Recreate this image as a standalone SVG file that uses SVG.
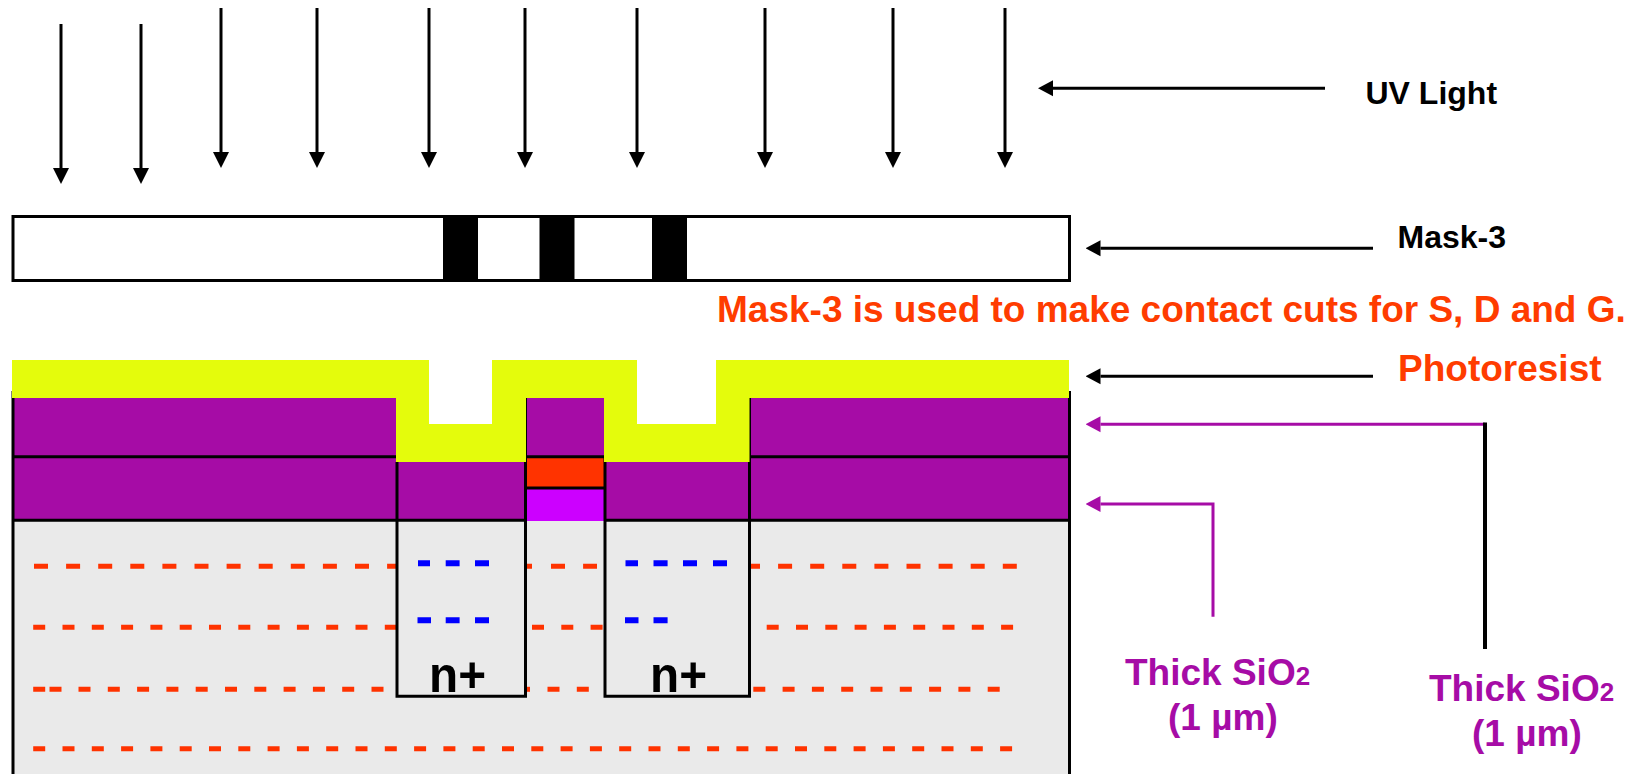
<svg xmlns="http://www.w3.org/2000/svg" width="1647" height="774" viewBox="0 0 1647 774">
<style>
text{font-family:"Liberation Sans",Arial,sans-serif;font-weight:bold}
.lab{font-size:32px;fill:#000}
.red{font-size:37px;fill:#ff3c00}
.pur{font-size:37px;fill:#a60ca6}
.np{font-size:50px;fill:#000}
.k{stroke:#000;fill:none;stroke-width:3}
.ray{stroke:#000;stroke-width:3;fill:none;marker-end:url(#down)}
.ptr{stroke:#000;stroke-width:3;fill:none;marker-end:url(#left)}
.pptr{stroke:#a60ca6;stroke-width:3;fill:none;marker-end:url(#leftp)}
.d1{stroke:#ff3300;stroke-width:5;fill:none;stroke-dasharray:14 18.1}
.d2{stroke:#ff3300;stroke-width:5;fill:none;stroke-dasharray:12 17.3}
.b{stroke:#0000ff;stroke-width:6;fill:none}
.ox{fill:#a60ca6}
</style>
<defs>
<marker id="down" markerUnits="userSpaceOnUse" markerWidth="16" markerHeight="17" refX="0" refY="8.5" orient="auto"><path d="M0 0.5L16 8.5L0 16.5Z" fill="#000"/></marker>
<marker id="left" markerUnits="userSpaceOnUse" markerWidth="15" markerHeight="17" refX="0" refY="8.5" orient="auto"><path d="M0 0.5L15 8.5L0 16.5Z" fill="#000"/></marker>
<marker id="leftp" markerUnits="userSpaceOnUse" markerWidth="15" markerHeight="17" refX="0" refY="8.5" orient="auto"><path d="M0 0.5L15 8.5L0 16.5Z" fill="#a60ca6"/></marker>
</defs>
<rect width="1647" height="774" fill="#fff"/>

<g id="uv-rays">
<path class="ray" d="M61 24V168"/><path class="ray" d="M141 24V168"/>
<path class="ray" d="M221 8V152"/><path class="ray" d="M317 8V152"/><path class="ray" d="M429 8V152"/><path class="ray" d="M525 8V152"/>
<path class="ray" d="M637 8V152"/><path class="ray" d="M765 8V152"/><path class="ray" d="M893 8V152"/><path class="ray" d="M1005 8V152"/>
</g>

<g id="mask">
<rect x="13" y="216.5" width="1056.5" height="64" fill="#fff" stroke="#000" stroke-width="3"/>
<rect x="443" y="215" width="35" height="67"/>
<rect x="539.5" y="215" width="35" height="67"/>
<rect x="652" y="215" width="35" height="67"/>
</g>

<g id="substrate">
<rect x="13" y="521" width="1056.5" height="253" fill="#eaeaea"/>
<path class="d1" d="M34 566.3H396"/><path class="d1" d="M527 566.3H532M551 566.3H597"/><path class="d1" d="M751 566.3H1018" stroke-dashoffset="5"/>
<path class="d2" d="M33.2 627.3H396"/><path class="d2" d="M532 627.3H604"/><path class="d2" d="M766.7 627.3H1014"/>
<path class="d2" d="M33.2 689.3H46M49.5 689.3H62M78.5 689.3H384"/><path class="d2" d="M547.5 689.3H590"/><path class="d2" d="M525 689.3H530"/><path class="d2" d="M753.3 689.3H1001"/>
<path class="d2" d="M33.2 748.7H1014"/>
<path class="b" d="M418 563.3H430M445.7 563.3H459.6M475 563.3H489"/>
<path class="b" d="M417.5 620.3H431M445.7 620.3H459.6M475 620.3H489"/>
<path class="b" d="M625.5 563.3H638M653.5 563.3H667.6M683 563.3H697M713 563.3H727"/>
<path class="b" d="M625 620.3H638.5M653.5 620.3H667.6"/>
</g>

<g id="oxide">
<rect class="ox" x="13" y="398" width="383" height="123"/>
<rect class="ox" x="396" y="460" width="130" height="61"/>
<rect class="ox" x="525" y="398" width="80" height="60"/>
<rect class="ox" x="604" y="460" width="146" height="61"/>
<rect class="ox" x="749" y="398" width="320" height="123"/>
</g>

<g id="gate">
<rect x="527" y="458" width="77" height="29" fill="#ff3300"/>
<rect x="527" y="489" width="77" height="32" fill="#cc00ff"/>
<path class="k" d="M526 488H605"/>
</g>

<g id="outlines">
<path class="k" d="M13 391V774M1069.5 391V774"/>
<path class="k" d="M12 520.3H525M604 520.3H1070M12 456.7H397M525 456.7H605M749 456.7H1070"/>
<path class="k" d="M397 462V696.3H525.5V398"/>
<path class="k" d="M605 457V696.3H749.5V398"/>
</g>

<g id="photoresist">
<path fill="#e4fc0c" d="M12 360H429V424H492V360H637V424H716V360H1069V398H749.5V462H604V398H526V462H396V398H12Z"/>
</g>

<g id="connectors">
<path class="ptr" d="M1325 88.3H1053"/>
<path class="ptr" d="M1373 248.3H1100.5"/>
<path class="ptr" d="M1373 376.3H1100.5"/>
<path class="pptr" d="M1485 424.3H1100.5"/>
<path d="M1485 422.5V649" stroke="#000" stroke-width="4" fill="none"/>
<path class="pptr" d="M1213 616.7V504H1100.5"/>
</g>

<g id="labels">
<text class="lab" x="1365.5" y="104">UV Light</text>
<text class="lab" x="1397.5" y="248">Mask-3</text>
<text class="red" x="717" y="321.5">Mask-3 is used to make contact cuts for S, D and G.</text>
<text class="red" x="1398" y="381">Photoresist</text>
<text class="np" x="429" y="691.7" textLength="57" lengthAdjust="spacingAndGlyphs">n+</text>
<text class="np" x="650" y="691.7" textLength="57" lengthAdjust="spacingAndGlyphs">n+</text>
<text class="pur" x="1125" y="684.5">Thick SiO<tspan font-size="26">2</tspan></text>
<text class="pur" x="1168" y="729.5">(1 µm)</text>
<text class="pur" x="1429" y="700.5">Thick SiO<tspan font-size="26">2</tspan></text>
<text class="pur" x="1472" y="745.5">(1 µm)</text>
</g>
</svg>
